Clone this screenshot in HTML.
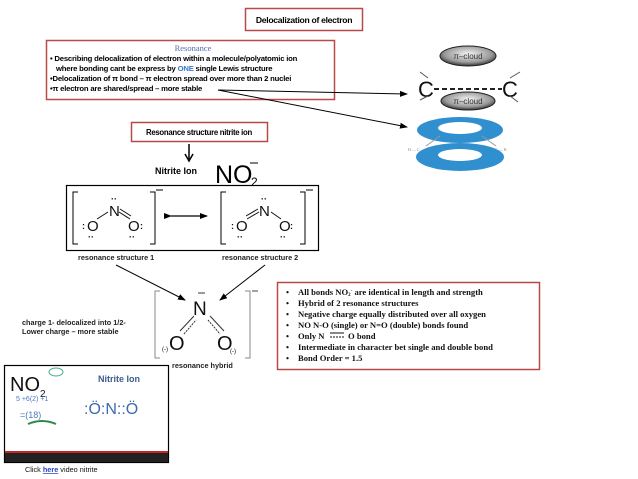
<!DOCTYPE html>
<html><head><meta charset="utf-8"><style>
html,body{margin:0;padding:0;background:#fff;width:638px;height:479px;overflow:hidden}
svg{display:block}
.s{font-family:"Liberation Sans",sans-serif}
.sr{font-family:"Liberation Serif",serif}
</style></head><body>
<svg width="638" height="479" viewBox="0 0 638 479" xmlns="http://www.w3.org/2000/svg">
<defs>
<marker id="a" markerWidth="8" markerHeight="8" refX="7" refY="4" orient="auto" markerUnits="userSpaceOnUse"><path d="M0,1 L8,4 L0,7z" fill="#000"/></marker>
<radialGradient id="g" cx="50%" cy="40%" r="60%"><stop offset="0" stop-color="#f4f4f4"/><stop offset="0.7" stop-color="#999"/><stop offset="1" stop-color="#333"/></radialGradient>
</defs>
<rect x="245.5" y="8.5" width="117" height="22" fill="#fff" stroke="#b84a4a" stroke-width="1.5"/>
<text x="304" y="23" class="s" font-size="8.6" font-weight="bold" text-anchor="middle" letter-spacing="-0.3">Delocalization of electron</text>
<rect x="46.5" y="40.5" width="288" height="59" fill="#fff" stroke="#b84a4a" stroke-width="1.5"/>
<text x="193" y="51" class="sr" font-size="8.5" fill="#4f6fa8" text-anchor="middle">Resonance</text>
<g class="s" font-size="7.7" font-weight="bold" letter-spacing="-0.2">
<text x="50" y="61">• Describing delocalization of electron within a molecule/polyatomic ion</text>
<text x="56" y="71">where bonding cant be express by <tspan fill="#3b78c9">ONE</tspan> single Lewis structure</text>
<text x="50" y="81">•Delocalization of  π bond – π electron spread over more than 2 nuclei</text>
<text x="50" y="91">•π electron are shared/spread – more stable</text>
</g>
<line x1="218" y1="90" x2="407" y2="94" stroke="#000" stroke-width="1" marker-end="url(#a)"/>
<line x1="218" y1="90" x2="407" y2="127" stroke="#000" stroke-width="1" marker-end="url(#a)"/>
<ellipse cx="468" cy="56" rx="28" ry="10" fill="url(#g)" stroke="#222"/>
<text x="468" y="59" class="s" font-size="8" text-anchor="middle" fill="#333">π–cloud</text>
<text x="418" y="97" class="s" font-size="22" fill="#111">C</text>
<text x="502" y="97" class="s" font-size="22" fill="#111">C</text>
<line x1="434" y1="89" x2="502" y2="89" stroke="#222" stroke-width="2" stroke-dasharray="5,3"/>
<line x1="420" y1="72" x2="428" y2="78" stroke="#555"/><line x1="510" y1="78" x2="520" y2="72" stroke="#555"/>
<line x1="420" y1="100" x2="428" y2="96" stroke="#555"/><line x1="510" y1="96" x2="518" y2="102" stroke="#555"/>
<ellipse cx="468" cy="101" rx="27" ry="9" fill="url(#g)" stroke="#222"/>
<text x="468" y="104" class="s" font-size="8" text-anchor="middle" fill="#333">π–cloud</text>
<ellipse cx="460" cy="130" rx="43" ry="13" fill="#2f8fcf"/>
<ellipse cx="460" cy="128" rx="22" ry="6" fill="#fff"/>
<line x1="426" y1="146" x2="440" y2="136" stroke="#999"/><line x1="496" y1="146" x2="482" y2="136" stroke="#999"/>
<text x="408" y="151" class="sr" font-size="4" fill="#888">H — C</text>
<text x="495" y="151" class="sr" font-size="4" fill="#888">C — H</text>
<ellipse cx="460" cy="157" rx="44" ry="14" fill="#2f8fcf"/>
<ellipse cx="460" cy="155" rx="22" ry="6" fill="#fff"/>
<rect x="131.5" y="122.5" width="136" height="19" fill="#fff" stroke="#b84a4a" stroke-width="1.5"/>
<text x="199" y="135" class="s" font-size="7.8" font-weight="bold" text-anchor="middle" letter-spacing="-0.3">Resonance structure nitrite ion</text>
<line x1="189" y1="144" x2="189" y2="159" stroke="#000" stroke-width="1.5"/>
<path d="M185,154 L189,161 L193,154" fill="none" stroke="#000" stroke-width="1.5"/>
<text x="155" y="174" class="s" font-size="9" font-weight="bold">Nitrite Ion</text>
<text x="215" y="183" class="s" font-size="25">NO</text>
<text x="251" y="186" class="s" font-size="12">2</text>
<line x1="250" y1="163" x2="258" y2="163" stroke="#000"/>
<rect x="66.5" y="185.5" width="252" height="65" fill="#fff" stroke="#000" stroke-width="1.2"/>
<g stroke="#000" stroke-width="1" fill="none">
<path d="M78,192 H73 V244 H78"/><path d="M150,192 H155 V244 H150"/>
<path d="M226,192 H221 V244 H226"/><path d="M300,192 H305 V244 H300"/>
</g>
<line x1="156" y1="190" x2="163" y2="190" stroke="#000"/>
<line x1="306" y1="190" x2="313" y2="190" stroke="#000"/>
<g class="s" font-size="15" fill="#111">
<text x="87" y="231">O</text><text x="109" y="216">N</text><text x="128" y="231">O</text>
<text x="236" y="231">O</text><text x="259" y="216">N</text><text x="279" y="231">O</text>
</g>
<g stroke="#111" stroke-width="1">
<line x1="97" y1="219" x2="108" y2="212"/>
<line x1="120" y1="209" x2="131" y2="216"/><line x1="119" y1="212" x2="130" y2="219"/>
<line x1="246" y1="216" x2="258" y2="209"/><line x1="247" y1="219" x2="259" y2="212"/>
<line x1="271" y1="212" x2="281" y2="219"/>
</g>
<g fill="#111" font-size="9" class="s" font-weight="bold"><text x="111" y="202">··</text><text x="261" y="202">··</text>
<text x="82" y="229">:</text><text x="140" y="229">:</text><text x="231" y="229">:</text><text x="290" y="229">:</text>
<text x="129" y="240">··</text><text x="237" y="240">··</text><text x="88" y="240">··</text><text x="280" y="240">··</text></g>
<line x1="171" y1="216" x2="207" y2="216" stroke="#000" stroke-width="1.2" marker-end="url(#a)" marker-start="url(#a)"/>
<text x="78" y="260" class="s" font-size="7.3" font-weight="bold" fill="#222">resonance structure 1</text>
<text x="222" y="260" class="s" font-size="7.3" font-weight="bold" fill="#222">resonance structure 2</text>
<line x1="116" y1="265" x2="185" y2="300" stroke="#000" marker-end="url(#a)"/>
<line x1="265" y1="265" x2="220" y2="300" stroke="#000" marker-end="url(#a)"/>
<g stroke="#888" fill="none"><path d="M160,291 H155 V358 H160"/><path d="M245,291 H250 V358 H245"/></g>
<line x1="252" y1="291" x2="258" y2="291" stroke="#444"/>
<line x1="198" y1="293" x2="205" y2="293" stroke="#333"/>
<text x="193" y="315" class="s" font-size="19" fill="#111">N</text>
<text x="169" y="350" class="s" font-size="20" fill="#111">O</text>
<text x="217" y="350" class="s" font-size="20" fill="#111">O</text>
<text x="162" y="351" class="s" font-size="6">(-)</text><text x="230" y="353" class="s" font-size="6">(-)</text>
<g stroke="#333"><line x1="180" y1="331" x2="194" y2="316"/><line x1="184" y1="334" x2="196" y2="320" stroke-dasharray="2,1"/>
<line x1="210" y1="316" x2="224" y2="331"/><line x1="208" y1="320" x2="220" y2="334" stroke-dasharray="2,1"/></g>
<text x="172" y="368" class="s" font-size="7.3" font-weight="bold" fill="#222">resonance hybrid</text>
<text x="22" y="325" class="s" font-size="7.3" font-weight="bold" fill="#222">charge 1- delocalized into 1/2-</text>
<text x="22" y="334" class="s" font-size="7.3" font-weight="bold" fill="#222">Lower charge – more stable</text>
<rect x="277.5" y="282.5" width="262" height="87" fill="#fff" stroke="#b84a4a" stroke-width="1.5"/>
<g class="sr" font-size="8.6" font-weight="bold" fill="#111">
<text x="286" y="295">•</text><text x="298" y="295">All bonds NO<tspan font-size="5" dy="1">2</tspan><tspan font-size="5" dy="-4">-</tspan><tspan dy="3"> are identical in length and strength</tspan></text>
<text x="286" y="306">•</text><text x="298" y="306">Hybrid of 2 resonance structures</text>
<text x="286" y="317">•</text><text x="298" y="317">Negative charge equally distributed over all oxygen</text>
<text x="286" y="328">•</text><text x="298" y="328">NO N-O (single) or N=O (double) bonds found</text>
<text x="286" y="339">•</text><text x="298" y="339">Only N</text><text x="348" y="339">O bond</text>
<text x="286" y="350">•</text><text x="298" y="350">Intermediate in character bet single and double bond</text>
<text x="286" y="361">•</text><text x="298" y="361">Bond Order = 1.5</text>
</g>
<line x1="330" y1="333" x2="344" y2="333" stroke="#111"/><line x1="330" y1="337" x2="344" y2="337" stroke="#111" stroke-dasharray="2,1"/>
<rect x="4.5" y="365.5" width="164" height="97" fill="#fff" stroke="#000" stroke-width="1.2"/>
<rect x="5" y="451" width="163" height="2" fill="#c22"/>
<rect x="5" y="453" width="163" height="9" fill="#222"/>
<text x="10" y="391" class="s" font-size="20" fill="#111">NO</text>
<text x="40" y="397" class="s" font-size="10" fill="#111">2</text>
<ellipse cx="56" cy="372" rx="7" ry="4" fill="none" stroke="#4a8"/>
<text x="98" y="382" class="s" font-size="9" font-weight="bold" fill="#3c5c8c">Nitrite Ion</text>
<text x="16" y="401" class="s" font-size="7" fill="#4a7ac0">5 +6(2) +1</text>
<text x="20" y="418" class="s" font-size="9" fill="#4a7ac0">=(18)</text>
<path d="M28,424 Q42,418 56,424" stroke="#2a8a4a" stroke-width="2" fill="none"/>
<text x="84" y="414" class="s" font-size="16" fill="#3c6ab0">:Ö:N::Ö</text>
<text x="25" y="472" class="s" font-size="7.3" fill="#111">Click <tspan fill="#2a3fc0" text-decoration="underline" font-weight="bold">here</tspan> video nitrite</text>
</svg>
</body></html>
